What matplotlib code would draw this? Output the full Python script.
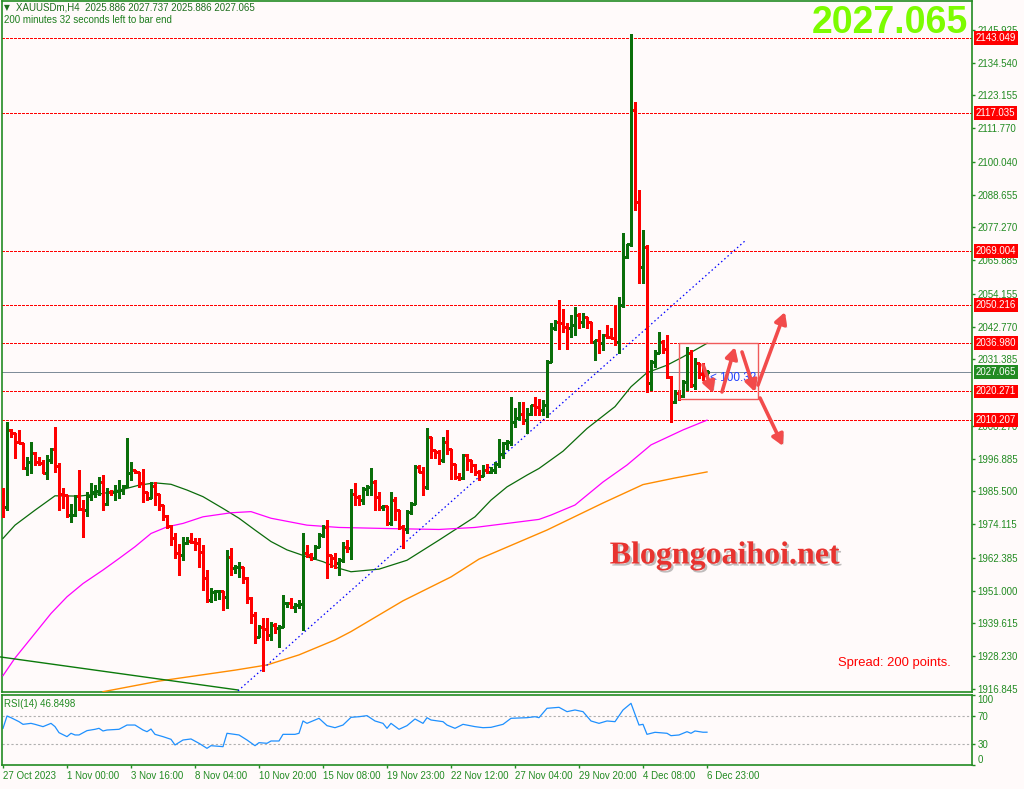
import numpy as np
import matplotlib.pyplot as plt
import matplotlib.transforms as mtransforms
import matplotlib.patheffects as pe
from matplotlib.collections import LineCollection
from matplotlib.patches import Rectangle

plt.rcParams['font.family'] = ['Liberation Sans', 'DejaVu Sans']

# ---------------- XAUUSDm H4 bars ----------------
first_open = 1984.5
highs = [1986.6, 2009.8, 2007.1, 2006.0, 2006.9, 2002.5, 1997.6, 2002.6, 1999.3, 1997.6,
         1996.4, 1998.2, 2000.5, 2008.0, 1995.3, 1986.6, 1984.3, 1981.1, 1984.3, 1993.0,
         1982.5, 1985.4, 1988.6, 1987.7, 1990.6, 1991.2, 1986.6, 1986.0, 1987.7, 1989.5,
         1987.7, 2004.0, 1995.8, 1993.0, 1992.4, 1993.2, 1985.4, 1988.9, 1988.9, 1984.8,
         1980.8, 1977.3, 1973.8, 1971.0, 1967.4, 1969.8, 1969.8, 1971.0, 1969.2, 1969.2,
         1966.9, 1958.2, 1951.8, 1951.2, 1951.2, 1951.0, 1965.2, 1965.7, 1959.9, 1961.1,
         1959.4, 1955.9, 1948.9, 1943.7, 1939.1, 1941.4, 1941.4, 1940.2, 1939.7, 1939.1,
         1949.5, 1947.2, 1948.4, 1946.6, 1947.8, 1970.9, 1966.9, 1964.0, 1966.9, 1970.9,
         1973.8, 1975.6, 1963.4, 1964.0, 1962.3, 1968.1, 1968.6, 1986.5, 1988.3, 1984.2,
         1987.1, 1987.7, 1993.5, 1989.4, 1985.4, 1980.7, 1980.6, 1985.4, 1983.6, 1979.0,
         1973.8, 1979.0, 1981.9, 1994.7, 1994.7, 1994.1, 2007.4, 2004.5, 1999.9, 1999.9,
         2004.5, 2006.8, 2000.4, 1995.2, 1991.8, 1998.7, 1998.7, 1996.4, 1995.2, 1992.9,
         1994.7, 1995.2, 1994.1, 1995.8, 2003.9, 2002.8, 2003.3, 2018.4, 2014.4, 2016.7,
         2016.7, 2014.4, 2015.5, 2018.4, 2017.8, 2017.3, 2031.2, 2043.9, 2045.1, 2052.0,
         2049.1, 2043.9, 2046.8, 2049.7, 2047.4, 2047.4, 2046.2, 2044.5, 2038.1, 2041.6,
         2040.4, 2043.4, 2042.2, 2050.3, 2053.2, 2075.2, 2071.7, 2144.5, 2121.0, 2090.3,
         2076.4, 2071.2, 2031.2, 2034.7, 2041.0, 2038.1, 2039.9, 2025.6, 2020.8, 2020.8,
         2024.2, 2035.8, 2034.7, 2031.8, 2030.0, 2030.0, 2027.737]
lows = [1976.7, 1979.0, 2004.5, 1997.0, 2002.2, 1993.2, 1991.2, 1991.8, 1994.7, 1994.7,
        1991.8, 1990.0, 1995.3, 1992.4, 1979.0, 1979.6, 1976.7, 1975.0, 1977.0, 1979.0,
        1969.8, 1977.0, 1982.5, 1983.7, 1984.3, 1979.0, 1980.8, 1984.3, 1982.5, 1983.1,
        1984.8, 1987.0, 1989.5, 1991.8, 1987.2, 1981.9, 1982.5, 1983.1, 1980.8, 1979.0,
        1975.6, 1972.7, 1966.9, 1962.3, 1956.5, 1961.7, 1967.2, 1967.5, 1965.2, 1959.4,
        1951.2, 1947.2, 1947.2, 1947.8, 1948.0, 1944.3, 1944.9, 1956.4, 1957.0, 1955.9,
        1953.6, 1946.6, 1939.7, 1932.7, 1935.0, 1923.0, 1933.9, 1933.9, 1936.2, 1931.5,
        1938.5, 1945.5, 1944.9, 1943.7, 1944.9, 1937.4, 1962.8, 1961.7, 1962.3, 1966.3,
        1969.8, 1955.3, 1959.4, 1958.8, 1956.5, 1961.0, 1964.6, 1962.2, 1980.8, 1980.8,
        1981.3, 1984.2, 1984.2, 1979.0, 1979.0, 1979.0, 1973.8, 1973.8, 1975.5, 1972.6,
        1965.7, 1970.9, 1977.8, 1981.3, 1992.3, 1984.2, 1986.5, 1997.0, 1997.0, 1995.2,
        1995.8, 1998.7, 1990.0, 1990.0, 1989.4, 1990.0, 1992.9, 1992.3, 1991.2, 1989.4,
        1990.8, 1991.8, 1991.8, 1991.8, 1994.1, 1997.0, 2000.4, 2001.6, 2008.0, 2010.3,
        2009.1, 2005.7, 2012.0, 2012.0, 2012.1, 2012.1, 2011.5, 2030.6, 2041.6, 2035.2,
        2041.0, 2035.2, 2039.3, 2039.9, 2042.2, 2042.8, 2042.2, 2037.0, 2031.2, 2033.5,
        2034.7, 2038.7, 2038.7, 2036.4, 2033.5, 2049.7, 2066.5, 2071.0, 2083.3, 2057.8,
        2057.8, 2020.2, 2020.8, 2028.9, 2033.5, 2033.5, 2024.8, 2009.7, 2016.1, 2017.3,
        2018.5, 2020.8, 2021.9, 2021.3, 2024.8, 2024.2, 2025.886]
closes = [1980.2, 2006.9, 2005.9, 2002.8, 2002.2, 1993.5, 1995.8, 1999.0, 1995.8, 1995.3,
          1992.1, 1996.4, 2000.1, 1994.3, 1984.8, 1984.3, 1977.2, 1977.5, 1983.9, 1979.3,
          1979.0, 1983.9, 1985.4, 1985.6, 1988.9, 1981.0, 1985.4, 1985.2, 1985.8, 1986.0,
          1987.4, 1991.8, 1993.0, 1992.4, 1988.3, 1985.4, 1983.4, 1987.4, 1984.8, 1980.8,
          1977.0, 1973.5, 1969.2, 1964.0, 1963.4, 1967.5, 1968.2, 1968.0, 1967.7, 1964.6,
          1955.3, 1947.8, 1950.7, 1950.9, 1951.0, 1948.9, 1962.8, 1958.8, 1959.1, 1959.4,
          1955.3, 1948.4, 1942.6, 1935.0, 1938.5, 1937.8, 1935.6, 1939.1, 1937.9, 1938.5,
          1946.6, 1946.8, 1945.5, 1946.0, 1946.3, 1964.0, 1963.4, 1962.3, 1966.3, 1970.4,
          1973.3, 1963.4, 1962.3, 1960.5, 1961.7, 1966.3, 1965.7, 1984.8, 1983.6, 1982.7,
          1986.5, 1987.1, 1988.9, 1983.6, 1980.2, 1980.4, 1974.4, 1982.5, 1979.0, 1973.2,
          1972.6, 1978.4, 1981.3, 1994.1, 1992.3, 1987.0, 2004.5, 1999.9, 1999.3, 1996.4,
          2002.8, 2000.4, 1995.2, 1990.6, 1990.3, 1998.1, 1996.4, 1994.7, 1992.3, 1991.0,
          1992.9, 1992.4, 1993.0, 1995.2, 1998.7, 2002.2, 2002.8, 2009.7, 2010.9, 2012.6,
          2010.3, 2012.6, 2015.5, 2015.0, 2014.0, 2015.5, 2030.6, 2042.2, 2044.5, 2043.9,
          2042.8, 2042.2, 2043.4, 2046.8, 2044.5, 2046.2, 2044.5, 2037.6, 2038.0, 2037.0,
          2039.9, 2039.3, 2038.9, 2037.6, 2050.3, 2067.1, 2071.5, 2118.1, 2086.2, 2063.6,
          2070.6, 2023.1, 2030.6, 2033.5, 2037.6, 2035.2, 2025.4, 2016.7, 2019.6, 2018.8,
          2023.6, 2033.5, 2022.5, 2030.0, 2026.5, 2025.9, 2027.065]

# moving averages, sampled at bar indices
ma_green_idx = [0, 3, 8, 13, 19, 25, 31, 34, 38, 42, 46, 50, 55, 59, 63, 67, 71, 76, 80,
                84, 87, 94, 101, 109, 118, 122, 126, 131, 134, 140, 146, 153, 157, 161,
                166, 170, 176]
ma_green = [1969.2, 1973.8, 1979.0, 1984.0, 1983.9, 1984.8, 1986.6, 1987.7, 1988.5,
            1988.0, 1986.0, 1983.7, 1979.6, 1976.2, 1972.1, 1968.1, 1965.2, 1962.8,
            1961.1, 1958.8, 1957.6, 1958.5, 1961.6, 1968.6, 1976.7, 1982.5, 1987.1,
            1991.2, 1993.5, 1999.5, 2007.4, 2015.0, 2021.9, 2026.8, 2029.4, 2032.3, 2037.0]
ma_pink_idx = [0, 3, 8, 12, 16, 20, 25, 29, 33, 37, 41, 45, 50, 57, 62, 67, 76, 84, 97,
               109, 118, 126, 134, 137, 143, 150, 156, 162, 170, 176]
ma_pink = [1921.5, 1927.6, 1936.2, 1943.1, 1948.9, 1953.5, 1958.2, 1962.2, 1966.3,
           1970.9, 1973.2, 1974.4, 1976.7, 1978.1, 1978.5, 1976.2, 1973.8, 1973.0,
           1972.6, 1972.3, 1973.0, 1974.4, 1975.8, 1977.3, 1980.8, 1988.8, 1994.7,
           2001.7, 2006.9, 2010.3]
ma_orange_idx = [25, 39, 58, 66, 74, 83, 87, 100, 112, 119, 136, 150, 160, 168, 176]
ma_orange = [1915.9, 1919.6, 1923.4, 1925.2, 1928.7, 1933.9, 1936.8, 1947.5, 1955.8,
             1962.0, 1972.1, 1981.5, 1987.9, 1990.2, 1992.3]

# drawn objects
trend_green = ([-0.75, 58.75], [1928.0, 1916.5])
trend_blue = ([58.75, 185.5], [1916.2, 2072.6])
level_lines = [2143.049, 2117.035, 2069.004, 2050.216, 2036.980, 2020.271, 2010.207]
last_price = 2027.065
box_k = (169.0, 188.8)
box_p = (2017.5, 2037.2)
arrows = [((175.0, 2029.5), (177.5, 2019.7)),
          ((179.75, 2020.1), (183.0, 2035.7)),
          ((184.75, 2034.0), (188.0, 2020.1)),
          ((188.75, 2022.5), (195.5, 2047.9)),
          ((189.25, 2018.0), (195.0, 2001.3))]

price_ticks = [2145.925, 2134.540, 2123.155, 2111.770, 2100.040, 2088.655, 2077.270,
               2065.885, 2054.155, 2042.770, 2031.385, 2008.270, 1996.885, 1985.500,
               1974.115, 1962.385, 1951.000, 1939.615, 1928.230, 1916.845]
time_labels = ['27 Oct 2023', '1 Nov 00:00', '3 Nov 16:00', '8 Nov 04:00', '10 Nov 20:00',
               '15 Nov 08:00', '19 Nov 23:00', '22 Nov 12:00', '27 Nov 04:00',
               '29 Nov 20:00', '4 Dec 08:00', '6 Dec 23:00']

# RSI(14), sampled at bar indices
rsi_idx = [0, 1, 2, 4, 5, 7, 8, 10, 12, 13, 14, 16, 17, 18, 19, 21, 23, 24, 25, 26,
           29, 31, 33, 35, 36, 37, 38, 40, 42, 43, 45, 47, 49, 51, 52, 55, 56, 59, 61, 63,
           64, 66, 67, 69, 70, 73, 74, 75, 76, 79, 81, 83, 85, 87, 89, 91, 93, 95, 96, 97,
           99, 101, 103, 105, 106, 107, 110, 111, 113, 115, 118, 120, 122, 125, 127, 131,
           133, 134, 136, 139, 141, 143, 145, 147, 149, 151, 153, 155, 157, 159, 160, 161,
           163, 166, 167, 169, 171, 172, 173, 175, 176]
rsi_val = [52.4, 70, 67.6, 61.9, 58.1, 59.5, 58.1, 54.8, 59.5, 54.8, 46.2, 40.5, 45.3,
           42.9, 42.9, 49.1, 51, 52.4, 48.6, 50, 51, 57.1, 57.1, 50, 47.6, 51.4, 43.8,
           40.5, 36.7, 28.6, 35.7, 37.2, 31, 23.8, 27.6, 26.2, 45.3, 42.9, 35.7, 27.6,
           31.9, 31, 34.3, 34.3, 43.8, 43.8, 45.3, 62.9, 59.5, 66.7, 56.2, 53.3, 57.1,
           68.1, 69, 70.5, 62.9, 59.5, 52.4, 59.5, 51, 56.2, 65.7, 59.5, 67.6, 64.3, 61.9,
           57.1, 52.4, 58.1, 54.8, 53.3, 53.8, 58.1, 66.7, 67.6, 69, 67.6, 81, 82.4, 76.2,
           78.6, 76.2, 62.9, 59.5, 62.9, 61.9, 78.6, 88.1, 57.1, 58.1, 43.8, 46.7, 45.3,
           41.9, 42.9, 47.6, 45.3, 48.6, 46.8, 46.8498]

# ---------------- figure ----------------
W, H = 1024, 789
bg = '#fffafa'
fg = '#228b22'
fig = plt.figure(figsize=(W / 100, H / 100), dpi=100, facecolor=bg)

ax = fig.add_axes([2 / W, 1 - 692 / H, 970 / W, 691 / H])
ax.set_facecolor(bg)
ax.set_xlim(-0.25, 242.25)
ax.set_ylim(1915.8, 2156.0)
for s in ax.spines.values():
    s.set_color(fg)
    s.set_linewidth(1.2)

# OHLC bars
opens = [first_open] + closes[:-1]
segs, cols = [], []
for k in range(len(closes)):
    o, h, l, c = opens[k], highs[k], lows[k], closes[k]
    col = '#0a6e0a' if c >= o else '#ff0000'
    segs += [[(k, l), (k, h)], [(k - 0.5, o), (k, o)], [(k, c), (k + 0.5, c)]]
    cols += [col] * 3
ax.add_collection(LineCollection(segs, colors=cols, linewidths=0.8, antialiaseds=False, zorder=4))

# level lines
for lv in level_lines:
    ax.axhline(lv, color='#ff0000', lw=0.7, dashes=(3, 2), antialiased=False, zorder=2)
ax.axhline(last_price, color='#7f8c99', lw=0.6, antialiased=False, zorder=2)

# moving averages and trendlines
ax.plot(ma_green_idx, ma_green, color='#0b6b0b', lw=0.9, zorder=3)
ax.plot(ma_pink_idx, ma_pink, color='#ff00ff', lw=0.9, zorder=3)
ax.plot(ma_orange_idx, ma_orange, color='#ff8c00', lw=1.0, zorder=3)
ax.plot(*trend_green, color='#0b7a0b', lw=1.0, zorder=3, clip_on=False)
ax.plot(*trend_blue, color='#0000ff', lw=0.9, dashes=(1.2, 2.2), zorder=3)

# analysis box, text and arrows
ax.add_patch(Rectangle((box_k[0], box_p[0]), box_k[1] - box_k[0], box_p[1] - box_p[0],
                       fill=False, ec='#f05a5a', lw=1.0, zorder=5))
ax.text(176.8, 2024.9, '< 100.32', color='#2040ff', fontsize=8.5, va='center', zorder=5)
shadow = [pe.withSimplePatchShadow(offset=(1.5, -1.5), shadow_rgbFace='gray', alpha=0.35)]
for tail, head in arrows:
    ax.annotate('', xy=head, xytext=tail,
                arrowprops=dict(arrowstyle='-|>,head_length=0.55,head_width=0.3',
                                color='#f24b4b', lw=2.6, shrinkA=0, shrinkB=0,
                                mutation_scale=12, path_effects=shadow), zorder=6)

# right price axis
ax.set_xticks([])
ax.yaxis.tick_right()
ax.set_yticks(price_ticks)
ax.set_yticklabels([f'{v:.3f}' for v in price_ticks])
ax.tick_params(axis='y', length=2.5, width=1, color=fg, labelcolor=fg, labelsize=7, pad=1.5)

tr = mtransforms.blended_transform_factory(ax.transAxes, ax.transData)
for lv in level_lines:
    ax.text(1.0036, lv, f'{lv:.3f}', transform=tr, color='white', fontsize=7, va='center',
            ha='left', clip_on=False, zorder=10,
            bbox=dict(boxstyle='square,pad=0.2', fc='#ff0000', ec='none'))
ax.text(1.0036, last_price, f'{last_price:.3f}', transform=tr, color='white', fontsize=7,
        va='center', ha='left', clip_on=False, zorder=10,
        bbox=dict(boxstyle='square,pad=0.2', fc='#228b22', ec='none'))

# RSI panel
rx = fig.add_axes([2 / W, 1 - 765 / H, 970 / W, 70 / H])
rx.set_facecolor(bg)
rx.set_xlim(-0.25, 242.25)
rx.set_ylim(0, 100)
for s in rx.spines.values():
    s.set_color(fg)
    s.set_linewidth(1.2)
for lv in (70, 30):
    rx.axhline(lv, color='#b0b0b0', lw=0.8, dashes=(2, 2))
rx.plot(rsi_idx, rsi_val, color='#1e90ff', lw=0.9)
rx.yaxis.tick_right()
rx.set_yticks([100, 70, 30, 0])
rx.set_yticklabels(['100', '70', '30', '0'])
rx.tick_params(axis='y', length=2.5, width=1, color=fg, labelcolor=fg, labelsize=7, pad=1.5)
ylabs = rx.get_yticklabels()
ylabs[0].set_va('top')
ylabs[3].set_va('bottom')
rx.set_xticks([16 * i for i in range(len(time_labels))])
rx.set_xticklabels(time_labels)
rx.tick_params(axis='x', length=2.5, width=1, color=fg, labelcolor=fg, labelsize=7, pad=2)
for t in rx.get_xticklabels():
    t.set_ha('left')

# texts
fig.text(4 / W, 1 - 8 / H, '\u25bc', color='#1e6e1e', fontsize=5.5, va='center',
         family='DejaVu Sans')
fig.text(16 / W, 1 - 8 / H, 'XAUUSDm,H4  2025.886 2027.737 2025.886 2027.065',
         color='#1e6e1e', fontsize=7, va='center')
fig.text(4 / W, 1 - 20 / H, '200 minutes 32 seconds left to bar end', color='#1e7e1e',
         fontsize=7, va='center')
fig.text(4 / W, 1 - 704 / H, 'RSI(14) 46.8498', color=fg, fontsize=7, va='center')
fig.text(968 / W, 1 - 23 / H, '2027.065', color='#7cfc00', fontsize=27, weight='bold',
         ha='right', va='center')
fig.text(725 / W, 1 - 556 / H, 'Blogngoaihoi.net', color='#e8332f', fontsize=23,
         weight='bold', family='Liberation Serif', ha='center', va='center',
         path_effects=[pe.withSimplePatchShadow(offset=(1.5, -1.5), shadow_rgbFace='gray',
                                                alpha=0.5)])
fig.text(838 / W, 1 - 663 / H, 'Spread: 200 points.', color='#ff0000', fontsize=9.4,
         va='center')

fig.savefig('out.png', dpi=100, facecolor=bg)
